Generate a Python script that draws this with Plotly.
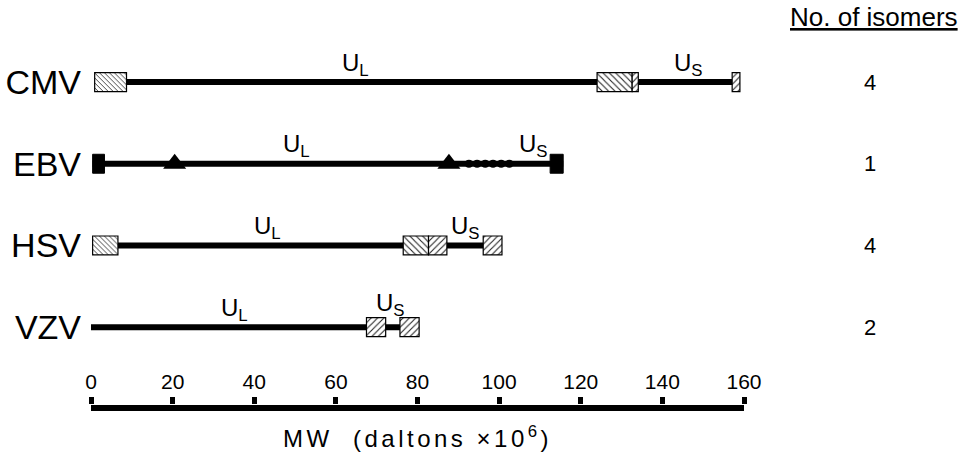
import plotly.graph_objects as go

# ---- data (MW in daltons x 10^6) ----
viruses = ["CMV", "EBV", "HSV", "VZV"]
isomers = ["4", "1", "4", "2"]
genome_start = [0.9, 0.4, 0.4, 0.0]
genome_end = [159.0, 115.7, 100.7, 80.4]

# hatched repeat boxes
box_virus = ["CMV", "CMV", "CMV", "CMV", "HSV", "HSV", "HSV", "HSV", "VZV", "VZV"]
box_start = [0.9, 124.0, 132.6, 157.1, 0.4, 76.5, 82.7, 96.1, 67.5, 75.7]
box_end = [8.7, 132.6, 134.1, 159.0, 6.6, 82.7, 87.2, 100.7, 72.2, 80.4]
box_hatch = ["\\", "\\", "/", "/", "\\", "\\", "/", "/", "/", "/"]

# EBV features
ebv_term_start = [0.4, 112.5]
ebv_term_end = [3.3, 115.7]
ebv_triangles = [20.5, 87.7]
ebv_dots = [92.6, 94.6, 96.6, 98.5, 100.5, 102.5]

# segment labels (x position in MW units)
ul_x = [64.7, 50.4, 43.3, 35.2]
us_x = [146.4, 108.3, 91.7, 73.3]

tick_vals = [0, 20, 40, 60, 80, 100, 120, 140, 160]

FONT = "Liberation Sans, Arial, Helvetica, sans-serif"

# hatch density per box (finer for the terminal repeats of CMV and HSV)
hatch_size = [3.5 if (v != "VZV" and s < 5) else 4.5 for v, s in zip(box_virus, box_start)]

fig = go.Figure()

# genome lines
lx, ly = [], []
for v, s, e in zip(viruses, genome_start, genome_end):
    lx += [s, e, None]
    ly += [v, v, None]
fig.add_trace(go.Scatter(x=lx, y=ly, mode="lines", line=dict(color="black", width=6),
                         hoverinfo="skip", showlegend=False, zorder=0))

# hatched boxes
fig.add_trace(go.Bar(
    y=box_virus, base=box_start, x=[e - s for s, e in zip(box_start, box_end)],
    orientation="h", width=0.232,
    marker=dict(color="white", line=dict(color="black", width=1.2),
                pattern=dict(shape=box_hatch, fgcolor="#222", bgcolor="white",
                             size=hatch_size, solidity=0.24, fillmode="replace")),
    hoverinfo="skip", showlegend=False, zorder=1))

# EBV terminal solid boxes
fig.add_trace(go.Bar(
    y=["EBV"] * len(ebv_term_start), base=ebv_term_start,
    x=[e - s for s, e in zip(ebv_term_start, ebv_term_end)],
    orientation="h", width=0.232,
    marker=dict(color="black", line=dict(color="black", width=1)),
    hoverinfo="skip", showlegend=False, zorder=1))

# EBV triangles and dots
fig.add_trace(go.Scatter(x=ebv_triangles, y=["EBV"] * len(ebv_triangles), mode="markers",
                         marker=dict(symbol="triangle-up", size=20, color="black"),
                         hoverinfo="skip", showlegend=False, zorder=2))
fig.add_trace(go.Scatter(x=ebv_dots, y=["EBV"] * len(ebv_dots), mode="markers",
                         marker=dict(symbol="circle", size=8, color="black"),
                         hoverinfo="skip", showlegend=False, zorder=2))

# dummy trace for the scale axis subplot
fig.add_trace(go.Scatter(x=[tick_vals[0], tick_vals[-1]], y=[-0.5, -0.5], xaxis="x2", yaxis="y2",
                         mode="markers", marker=dict(opacity=0), hoverinfo="skip",
                         showlegend=False))

annotations = []
for v, x in zip(viruses, ul_x):
    annotations.append(dict(x=x, y=v, xref="x", yref="y", text="U<sub>L</sub>",
                            showarrow=False, xanchor="center", yanchor="middle", yshift=18,
                            font=dict(size=24, color="black", family=FONT)))
for v, x in zip(viruses, us_x):
    annotations.append(dict(x=x, y=v, xref="x", yref="y", text="U<sub>S</sub>",
                            showarrow=False, xanchor="center", yanchor="middle",
                            yshift=23 if v == "VZV" else 18,
                            font=dict(size=24, color="black", family=FONT)))
for v, n in zip(viruses, isomers):
    annotations.append(dict(x=1.193, y=v, xref="paper", yref="y", text=n,
                            showarrow=False, xanchor="center", yanchor="middle",
                            font=dict(size=22, color="black", family=FONT)))
annotations.append(dict(x=1.199, y=0.962, xref="paper", yref="paper", text="No. of isomers",
                        showarrow=False, xanchor="center", yanchor="middle",
                        font=dict(size=26, color="black", family=FONT, lineposition="under")))
annotations.append(dict(x=80, y=0.0332, xref="x", yref="paper", xanchor="center",
                        yanchor="middle",
                        text='<span style="letter-spacing:3.5px">MW\u00a0 (daltons\u00a0×10<sup>6</sup>)</span>',
                        showarrow=False,
                        font=dict(size=24, color="black", family=FONT)))

fig.update_layout(
    width=973, height=452,
    margin=dict(l=91, r=229, t=0, b=0),
    paper_bgcolor="white", plot_bgcolor="rgba(0,0,0,0)",
    barmode="overlay",
    font=dict(family=FONT, color="black"),
    xaxis=dict(range=[0, 160], visible=False, automargin=False),
    yaxis=dict(type="category", categoryorder="array", categoryarray=viruses,
               range=[4.528, -1.0043], showgrid=False, zeroline=False, showline=False,
               ticks="", ticklabelstandoff=9, automargin=False,
               tickfont=dict(size=34, color="black", family=FONT)),
    # MW scale: ticks/labels from xaxis2, baseline drawn as y2's zero line
    xaxis2=dict(anchor="y2", side="top", domain=[0, 1],
                range=[0, 160], tickvals=tick_vals, ticks="outside", ticklen=7,
                tickwidth=5, tickcolor="black", showline=False,
                showgrid=False, zeroline=False, automargin=False,
                tickfont=dict(size=21, color="black", family=FONT)),
    yaxis2=dict(anchor="x2", domain=[0, 0.10398], range=[-1, 0.0682],
                showticklabels=False, ticks="", showgrid=False, showline=False,
                zeroline=True, zerolinewidth=6, zerolinecolor="black",
                automargin=False),
    annotations=annotations,
    showlegend=False,
)

fig.write_html("out.html", config={"displayModeBar": False},
               post_script="document.body.style.margin='0';")
